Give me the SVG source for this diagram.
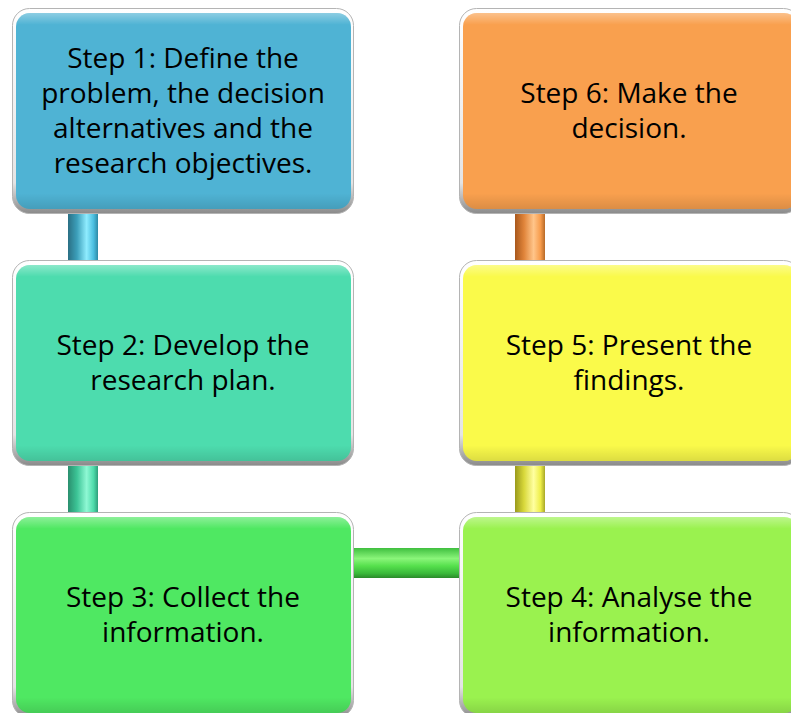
<svg xmlns="http://www.w3.org/2000/svg" width="791" height="713" viewBox="0 0 791 713">
  <defs>
    <!-- bevelled frame around every step box -->
    <linearGradient id="bevel" x1="0" y1="0" x2="0" y2="1">
      <stop offset="0" stop-color="#ffffff"/>
      <stop offset="0.85" stop-color="#e4e4e4"/>
      <stop offset="1" stop-color="#8a8a8a"/>
    </linearGradient>
    <linearGradient id="gloss" x1="0" y1="0" x2="0" y2="1">
      <stop offset="0" stop-color="#ffffff" stop-opacity="0.35"/>
      <stop offset="0.06" stop-color="#ffffff" stop-opacity="0"/>
      <stop offset="0.92" stop-color="#000000" stop-opacity="0"/>
      <stop offset="1" stop-color="#000000" stop-opacity="0.12"/>
    </linearGradient>
    <!-- cylinder shading for the vertical pipes -->
    <linearGradient id="pipeBlue" x1="0" y1="0" x2="1" y2="0">
      <stop offset="0" stop-color="#2a6f84"/>
      <stop offset="0.3" stop-color="#3c9fba"/>
      <stop offset="0.62" stop-color="#8fecff"/>
      <stop offset="0.85" stop-color="#4bbfe0"/>
      <stop offset="1" stop-color="#2d8aa5"/>
    </linearGradient>
    <linearGradient id="pipeTeal" x1="0" y1="0" x2="1" y2="0">
      <stop offset="0" stop-color="#2a8f6e"/>
      <stop offset="0.3" stop-color="#3cc496"/>
      <stop offset="0.62" stop-color="#8ff8d4"/>
      <stop offset="0.85" stop-color="#4edcab"/>
      <stop offset="1" stop-color="#2d9f7a"/>
    </linearGradient>
    <linearGradient id="pipeOrange" x1="0" y1="0" x2="1" y2="0">
      <stop offset="0" stop-color="#a8581c"/>
      <stop offset="0.3" stop-color="#e0843a"/>
      <stop offset="0.62" stop-color="#ffc58a"/>
      <stop offset="0.85" stop-color="#f79c4c"/>
      <stop offset="1" stop-color="#b86a28"/>
    </linearGradient>
    <linearGradient id="pipeYellow" x1="0" y1="0" x2="1" y2="0">
      <stop offset="0" stop-color="#9a9a1c"/>
      <stop offset="0.3" stop-color="#d8d83a"/>
      <stop offset="0.62" stop-color="#ffffa0"/>
      <stop offset="0.85" stop-color="#eeee48"/>
      <stop offset="1" stop-color="#a8a828"/>
    </linearGradient>
    <linearGradient id="pipeGreen" x1="0" y1="0" x2="0" y2="1">
      <stop offset="0" stop-color="#3fbf3f"/>
      <stop offset="0.35" stop-color="#8af57a"/>
      <stop offset="0.6" stop-color="#55e04c"/>
      <stop offset="0.85" stop-color="#3ab83a"/>
      <stop offset="1" stop-color="#2a8a2a"/>
    </linearGradient>
  </defs>
  <style>
    .frame { fill: url(#bevel); stroke: #b4b4b4; stroke-width: 1; }
    .gloss { fill: url(#gloss); }
    .label { font-family: "Open Sans", "Liberation Sans", sans-serif; font-size: 28px; fill: #000000; text-anchor: middle; }
  </style>
  <rect width="791" height="713" fill="#ffffff"/>

  <g id="connectors">
    <rect x="68" y="213" width="30" height="48" fill="url(#pipeBlue)"/>
    <rect x="68" y="465" width="30" height="48" fill="url(#pipeTeal)"/>
    <rect x="515" y="213" width="30" height="48" fill="url(#pipeOrange)"/>
    <rect x="515" y="465" width="30" height="48" fill="url(#pipeYellow)"/>
    <rect x="352" y="548" width="110" height="30" fill="url(#pipeGreen)"/>
  </g>

  <g id="step1">
    <rect class="frame" x="12.5" y="8.5" width="341" height="205" rx="17"/>
    <rect x="16" y="13" width="335" height="196" rx="14" fill="#4fb3d4"/>
    <rect class="gloss" x="16" y="13" width="335" height="196" rx="14"/>
    <text class="label" x="183" y="68">Step 1: Define the</text>
    <text class="label" x="183" y="103">problem, the decision</text>
    <text class="label" x="183" y="138">alternatives and the</text>
    <text class="label" x="183" y="173">research objectives.</text>
  </g>

  <g id="step2">
    <rect class="frame" x="12.5" y="260.5" width="341" height="205" rx="17"/>
    <rect x="16" y="265" width="335" height="196" rx="14" fill="#4ddcae"/>
    <rect class="gloss" x="16" y="265" width="335" height="196" rx="14"/>
    <text class="label" x="183" y="355">Step 2: Develop the</text>
    <text class="label" x="183" y="390">research plan.</text>
  </g>

  <g id="step3">
    <rect class="frame" x="12.5" y="512.5" width="341" height="205" rx="17"/>
    <rect x="16" y="517" width="335" height="196" rx="14" fill="#4fe862"/>
    <rect class="gloss" x="16" y="517" width="335" height="196" rx="14"/>
    <text class="label" x="183" y="607">Step 3: Collect the</text>
    <text class="label" x="183" y="642">information.</text>
  </g>

  <g id="step4">
    <rect class="frame" x="459.5" y="512.5" width="341" height="205" rx="17"/>
    <rect x="463" y="517" width="335" height="196" rx="14" fill="#9af24f"/>
    <rect class="gloss" x="463" y="517" width="335" height="196" rx="14"/>
    <text class="label" x="629" y="607">Step 4: Analyse the</text>
    <text class="label" x="629" y="642">information.</text>
  </g>

  <g id="step5">
    <rect class="frame" x="459.5" y="260.5" width="341" height="205" rx="17"/>
    <rect x="463" y="265" width="335" height="196" rx="14" fill="#fafa4a"/>
    <rect class="gloss" x="463" y="265" width="335" height="196" rx="14"/>
    <text class="label" x="629" y="355">Step 5: Present the</text>
    <text class="label" x="629" y="390">findings.</text>
  </g>

  <g id="step6">
    <rect class="frame" x="459.5" y="8.5" width="341" height="205" rx="17"/>
    <rect x="463" y="13" width="335" height="196" rx="14" fill="#f9a04e"/>
    <rect class="gloss" x="463" y="13" width="335" height="196" rx="14"/>
    <text class="label" x="629" y="103">Step 6: Make the</text>
    <text class="label" x="629" y="138">decision.</text>
  </g>
</svg>
